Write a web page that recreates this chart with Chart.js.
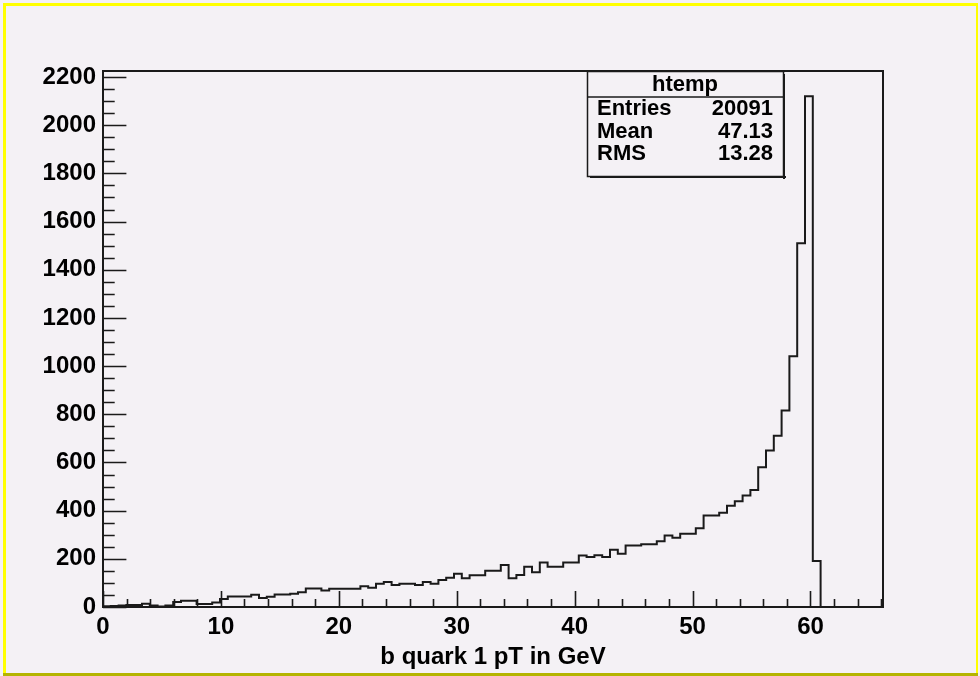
<!DOCTYPE html>
<html>
<head>
<meta charset="utf-8">
<script src="https://cdn.jsdelivr.net/npm/chart.js@4.4.0/dist/chart.umd.min.js"></script>
<style>
  html, body { margin: 0; padding: 0; background: #f4f1f5; }
  #wrap { width: 980px; height: 676px; }
  canvas { display: block; }
</style>
</head>
<body>
<div id="wrap"><canvas id="hist" width="980" height="676"></canvas></div>
<script>
// htemp: b quark 1 pT, 100 bins
const X_MIN = 0;
const X_MAX = 66.15;
const BIN_WIDTH = 0.6615;
const Y_MAX = 2225;

const binCounts = [
  3, 4, 6, 8, 8, 14, 6, 2, 6, 21,
  26, 26, 12, 12, 19, 33, 44, 44, 44, 51,
  37, 43, 52, 52, 55, 61, 77, 77, 69, 76,
  76, 76, 76, 86, 80, 97, 104, 91, 97, 97,
  91, 104, 97, 112, 121, 138, 119, 132, 132, 150,
  150, 174, 119, 133, 167, 144, 185, 167, 167, 185,
  185, 214, 208, 215, 208, 238, 221, 255, 255, 261,
  261, 273, 297, 287, 304, 304, 327, 380, 380, 391,
  420, 439, 463, 486, 580, 650, 711, 816, 1041, 1510,
  2120, 191, 0, 0, 0, 0, 0, 0, 0, 0
];

const xTickValues = [0, 10, 20, 30, 40, 50, 60];
const yTickValues = [0, 200, 400, 600, 800, 1000, 1200, 1400, 1600, 1800, 2000, 2200];
const X_MINOR = 2, Y_MINOR = 50;
const xTitle = 'b quark 1 pT in GeV';
const statsTitle = 'htemp';
const statsLabels = ['Entries', 'Mean', 'RMS'];
const statsValues = ['20091', '47.13', '13.28'];

const BG = '#f4f1f5';
const FONT = "'Liberation Sans', Arial, Helvetica, sans-serif";

// step outline: one point per left bin edge, plus closing edge
const points = binCounts.map(function(c, i) { return { x: X_MIN + i * BIN_WIDTH, y: c }; });
points.push({ x: X_MIN + binCounts.length * BIN_WIDTH, y: 0 });

const rootStyle = {
  id: 'rootStyle',
  beforeDraw(chart) {
    const ctx = chart.ctx;
    ctx.save();
    ctx.fillStyle = BG;
    ctx.fillRect(0, 0, chart.width, chart.height);
    // canvas highlight border
    ctx.fillStyle = '#ffff00';
    ctx.fillRect(3, 3, chart.width - 5, 3);
    ctx.fillRect(3, 3, 3, chart.height - 6);
    ctx.fillRect(chart.width - 4, 3, 2, chart.height - 6);
    ctx.fillStyle = '#b4b400';
    ctx.fillRect(3, chart.height - 3, chart.width - 5, 3);
    ctx.restore();
  },
  afterDraw(chart) {
    const ctx = chart.ctx;
    const a = chart.chartArea;
    const xs = chart.scales.x, ys = chart.scales.y;
    ctx.save();
    ctx.strokeStyle = '#1a1a1a';
    ctx.lineWidth = 2;
    ctx.strokeRect(a.left, a.top, a.right - a.left, a.bottom - a.top);

    // inward ticks: major from the scale, minor in between
    const yLen = (a.right - a.left) * 0.03;
    const xLen = (a.bottom - a.top) * 0.03;
    ctx.lineWidth = 1.6;
    ctx.beginPath();
    for (let v = 0; v <= Y_MAX; v += Y_MINOR) {
      const py = Math.round(ys.getPixelForValue(v)) + 0.5;
      const len = yTickValues.indexOf(v) >= 0 ? yLen : yLen / 2;
      ctx.moveTo(a.left, py);
      ctx.lineTo(a.left + len, py);
    }
    for (let v = 0; v <= X_MAX; v += X_MINOR) {
      const px = Math.round(xs.getPixelForValue(v)) + 0.5;
      const len = xTickValues.indexOf(v) >= 0 ? xLen : xLen / 2;
      ctx.moveTo(px, a.bottom);
      ctx.lineTo(px, a.bottom - len);
    }
    ctx.stroke();

    // stats box
    const bx = 587, by = a.top, bw = 196, bh = 105;
    ctx.fillStyle = '#1a1a1a';
    ctx.fillRect(bx + 3, by + bh, bw, 2);
    ctx.fillRect(bx + bw, by + 3, 2, bh);
    ctx.fillStyle = BG;
    ctx.fillRect(bx, by, bw, bh);
    ctx.lineWidth = 1.5;
    ctx.strokeRect(bx + 0.5, by + 0.5, bw, bh);
    ctx.beginPath();
    ctx.moveTo(bx, by + 26);
    ctx.lineTo(bx + bw, by + 26);
    ctx.stroke();

    ctx.fillStyle = '#000';
    ctx.font = 'bold 22px ' + FONT;
    ctx.textBaseline = 'middle';
    ctx.textAlign = 'center';
    ctx.fillText(statsTitle, bx + bw / 2, by + 14);
    statsLabels.forEach(function(lbl, i) {
      const ty = by + 38 + i * 22.6;
      ctx.textAlign = 'left';
      ctx.fillText(lbl, bx + 10, ty);
      ctx.textAlign = 'right';
      ctx.fillText(statsValues[i], bx + bw - 10, ty);
    });
    ctx.restore();
  }
};

const tickFont = { family: FONT, size: 24, weight: 'bold' };

new Chart(document.getElementById('hist'), {
  type: 'line',
  data: {
    datasets: [{
      label: statsTitle,
      data: points,
      stepped: 'before',
      borderColor: '#1a1a1a',
      borderWidth: 2,
      pointRadius: 0,
      fill: false,
      tension: 0
    }]
  },
  options: {
    responsive: false,
    animation: false,
    devicePixelRatio: 1,
    layout: { padding: { left: 0, right: 97, top: 71, bottom: 0 } },
    plugins: {
      legend: { display: false },
      tooltip: { enabled: false }
    },
    scales: {
      x: {
        type: 'linear',
        min: X_MIN,
        max: X_MAX,
        afterBuildTicks: function(s) { s.ticks = xTickValues.map(function(v) { return { value: v }; }); },
        afterFit: function(s) { s.height = 69; },
        grid: { display: false, drawTicks: false },
        border: { display: false },
        ticks: {
          autoSkip: false,
          maxRotation: 0,
          padding: 6,
          color: '#000',
          font: tickFont,
          callback: function(v) { return String(v); }
        },
        title: {
          display: true,
          text: xTitle,
          color: '#000',
          font: tickFont,
          padding: { top: 0, bottom: 4 }
        }
      },
      y: {
        type: 'linear',
        min: 0,
        max: Y_MAX,
        afterBuildTicks: function(s) { s.ticks = yTickValues.map(function(v) { return { value: v }; }); },
        afterFit: function(s) { s.width = 103; },
        grid: { display: false, drawTicks: false },
        border: { display: false },
        ticks: {
          autoSkip: false,
          padding: 7,
          color: '#000',
          font: tickFont,
          callback: function(v) { return String(v); }
        }
      }
    }
  },
  plugins: [rootStyle]
});
</script>
</body>
</html>
